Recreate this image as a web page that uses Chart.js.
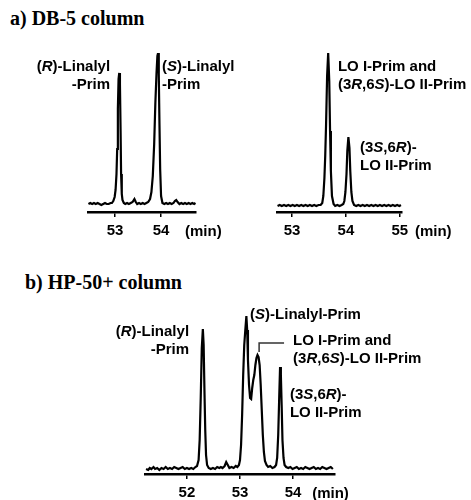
<!DOCTYPE html>
<html>
<head>
<meta charset="utf-8">
<script src="https://cdn.jsdelivr.net/npm/chart.js@4.4.1/dist/chart.umd.min.js"></script>
<style>
    body { margin: 0; background: #fff; }
    #wrap { position: relative; width: 471px; height: 500px; overflow: hidden; }
    .titulo { position: absolute; font: bold 20px "Liberation Serif", "Times New Roman", serif; color: #000; line-height: 20px; white-space: nowrap; }
    canvas { position: absolute; }
</style>
</head>
<body>
<div id="wrap">
    <div class="titulo" style="left:10px; top:8px">a) DB-5 column</div>
    <div class="titulo" style="left:25px; top:272px">b) HP-50+ column</div>
    <canvas id="graficoA1" width="240" height="220" style="left:0; top:30px"></canvas>
    <canvas id="graficoA2" width="231" height="220" style="left:240px; top:30px"></canvas>
    <canvas id="graficoB" width="471" height="215" style="left:0; top:290px"></canvas>
</div>
<script>
// a) DB-5, linalyl primeverosides (tempo em min, sinal em unidades arbitrarias)
const tempoA1 = [52.42, 52.46, 52.50, 52.54, 52.58, 52.62, 52.66, 52.70, 52.74, 52.78, 52.82, 52.86, 52.90, 52.93, 52.96, 52.99,
    53.01, 53.03, 53.045, 53.06, 53.075, 53.09, 53.105, 53.12, 53.13, 53.145, 53.16, 53.19, 53.22, 53.26, 53.30, 53.34, 53.38, 53.42, 53.45,
    53.48, 53.52, 53.56, 53.60, 53.64, 53.68, 53.72, 53.76, 53.79, 53.82, 53.85, 53.875, 53.90, 53.92, 53.935, 53.95, 53.965, 53.98,
    54.00, 54.03, 54.07, 54.11, 54.15, 54.19, 54.23, 54.27, 54.30, 54.33, 54.36, 54.40, 54.44, 54.48, 54.52, 54.56, 54.60, 54.64,
    54.68, 54.72, 54.75];
const sinalA1 = [0, 1, 0, 1, 0, 1, 0, -1, 0, 1, 0, 0, 1, 1, 3, 7,
    14, 30, 55, 95, 125, 131, 120, 70, 30, 10, 4, 1, 0, 1, 0, 1, 2, 5, 2,
    0, 1, 0, 1, 0, 1, 2, 5, 12, 28, 60, 100, 130, 148, 151, 130, 80, 35,
    8, 1, 0, 1, 0, 1, 0, 1, 3, 4, 2, 0, 1, 0, 1, 0, 1, 0,
    1, 0, 1];
const ticksA1 = [53, 54];

// a) DB-5, linalool oxide primeverosides
const tempoA2 = [52.73, 52.77, 52.81, 52.85, 52.89, 52.93, 52.97, 53.01, 53.05, 53.09, 53.13, 53.17, 53.21, 53.25, 53.29, 53.33,
    53.37, 53.41, 53.45, 53.49, 53.53, 53.56, 53.58, 53.60, 53.615, 53.63, 53.65, 53.67, 53.69, 53.705, 53.72, 53.74, 53.77, 53.80,
    53.84, 53.88, 53.92, 53.95, 53.97, 53.99, 54.01, 54.025, 54.045, 54.065, 54.08, 54.10, 54.12, 54.15, 54.19, 54.23, 54.27, 54.31,
    54.35, 54.39, 54.43, 54.47, 54.51, 54.55, 54.59, 54.63, 54.67, 54.71, 54.75, 54.79, 54.83, 54.87, 54.91, 54.95, 54.99, 55.02];
const sinalA2 = [0, 1, 0, 1, 0, 1, 0, 1, 0, 1, 0, 1, 0, 1, 0, 1,
    0, 1, 0, 1, 1, 3, 10, 28, 50, 80, 130, 153, 125, 75, 35, 10, 2, 0,
    1, 0, 1, 2, 5, 14, 32, 55, 69, 58, 35, 14, 5, 1, 0, 1, 0, 1,
    0, 1, 0, 1, 0, 1, 0, 1, 0, 1, 0, 1, 0, 1, 0, 1, 0, 1];
const ticksA2 = [53, 54, 55];

// b) HP-50+
const tempoB = [51.23, 51.27, 51.30, 51.33, 51.37, 51.40, 51.44, 51.48, 51.52, 51.56, 51.60, 51.64, 51.68, 51.72, 51.76, 51.80,
    51.84, 51.88, 51.92, 51.96, 52.00, 52.04, 52.08, 52.12, 52.16, 52.19, 52.22, 52.24, 52.26, 52.28, 52.30, 52.315, 52.33, 52.345,
    52.36, 52.38, 52.41, 52.45, 52.49, 52.53, 52.57, 52.61, 52.64, 52.67, 52.71, 52.74, 52.77, 52.80, 52.84, 52.88, 52.92, 52.95,
    52.98, 53.00, 53.02, 53.04, 53.06, 53.08, 53.10, 53.12, 53.135, 53.15, 53.17, 53.19, 53.21, 53.23, 53.25, 53.27, 53.29, 53.31,
    53.33, 53.35, 53.37, 53.39, 53.41, 53.43, 53.45, 53.47, 53.50, 53.53, 53.57, 53.61, 53.65, 53.68, 53.70, 53.72, 53.74, 53.755,
    53.77, 53.785, 53.80, 53.82, 53.84, 53.87, 53.91, 53.95, 53.99, 54.03, 54.07, 54.11, 54.15, 54.19, 54.23, 54.27, 54.31, 54.35,
    54.39, 54.43, 54.47, 54.51, 54.55, 54.59, 54.63, 54.67, 54.71, 54.75];
const sinalB = [1, 0, 2, 1, 3, 1, 2, 0, 2, 1, 3, 1, 2, 1, 3, 2,
    1, 2, 3, 1, 2, 1, 2, 1, 3, 4, 10, 30, 72, 122, 141, 125, 80, 40,
    15, 5, 2, 1, 2, 1, 3, 2, 3, 2, 4, 8, 5, 2, 3, 2, 4, 3,
    5, 10, 25, 55, 95, 125, 140, 154, 140, 110, 85, 72, 71, 82, 90, 95, 105, 112,
    115, 113, 105, 85, 60, 35, 18, 9, 5, 3, 4, 2, 3, 5, 12, 35, 75, 103,
    95, 65, 30, 12, 5, 3, 2, 3, 1, 2, 3, 1, 2, 1, 3, 2, 1, 2,
    3, 1, 2, 1, 3, 2, 1, 2, 3, 1];
const ticksB = [52, 53, 54];

// rotulos dos picos: texto entre * fica em italico; x em min, y em sinal
const rotulosA1 = [
    { x: 52.89, y: 137, lado: 'right', linhas: ['(*R*)-Linalyl', '-Prim'] },
    { x: 54.02, y: 137, lado: 'left', linhas: ['(*S*)-Linalyl', '-Prim'] }
];
const rotulosA2 = [
    { x: 53.85, y: 139, lado: 'left', linhas: ['LO I-Prim and', '(3*R*,6*S*)-LO II-Prim'] },
    { x: 54.26, y: 58, lado: 'left', linhas: ['(3*S*,6*R*)-', 'LO II-Prim'] }
];
const rotulosB = [
    { x: 52.04, y: 138, lado: 'right', linhas: ['(*R*)-Linalyl', '-Prim'] },
    { x: 53.19, y: 155, lado: 'left', linhas: ['(*S*)-Linalyl-Prim'] },
    { x: 54.00, y: 129, lado: 'left', linhas: ['LO I-Prim and', '(3*R*,6*S*)-LO II-Prim'] },
    { x: 53.94, y: 75, lado: 'left', linhas: ['(3*S*,6*R*)-', 'LO II-Prim'] }
];
// colchete que liga o rotulo LO I ao ombro do pico
const colcheteB = [[53.83, 127], [53.36, 127], [53.36, 118]];

const fonte = '"Liberation Sans", Arial, sans-serif';

Chart.defaults.font.family = fonte;
Chart.defaults.font.size = 15;
Chart.defaults.font.weight = 'bold';
Chart.defaults.color = '#000';

function escreverRico(ctx, texto, x, y, lado) {
    const partes = texto.split('*');
    let largura = 0;
    partes.forEach((p, i) => {
        ctx.font = (i % 2 ? 'italic ' : '') + 'bold 15px ' + fonte;
        largura += ctx.measureText(p).width;
    });
    let cx = lado === 'right' ? x - largura : x;
    partes.forEach((p, i) => {
        ctx.font = (i % 2 ? 'italic ' : '') + 'bold 15px ' + fonte;
        ctx.fillText(p, cx, y);
        cx += ctx.measureText(p).width;
    });
}

const pluginRotulos = {
    id: 'rotulos',
    afterDraw(chart, args, opts) {
        const ctx = chart.ctx;
        const sx = chart.scales.x, sy = chart.scales.y;
        ctx.save();
        ctx.fillStyle = '#000';
        ctx.textBaseline = 'middle';
        (opts.lista || []).forEach((r) => {
            r.linhas.forEach((linha, i) => {
                escreverRico(ctx, linha, sx.getPixelForValue(r.x), sy.getPixelForValue(r.y) + i * 18, r.lado);
            });
        });
        if (opts.colchete) {
            ctx.strokeStyle = '#333';
            ctx.lineWidth = 1.5;
            ctx.beginPath();
            opts.colchete.forEach((p, i) => {
                const px = sx.getPixelForValue(p[0]), py = sy.getPixelForValue(p[1]);
                if (i === 0) ctx.moveTo(px, py); else ctx.lineTo(px, py);
            });
            ctx.stroke();
        }
        // unidade do eixo
        ctx.font = 'bold 15px ' + fonte;
        ctx.fillText('(min)', sx.getPixelForValue(opts.unidadeX), chart.chartArea.bottom + 20);
        ctx.restore();
    }
};

function plotarCromatograma(id, tempos, sinais, marcas, faixa, rotulos, extra) {
    const pontos = tempos.map((t, i) => ({ x: t, y: sinais[i] }));
    return new Chart(document.getElementById(id), {
        type: 'line',
        data: {
            datasets: [{
                data: pontos,
                borderColor: '#000',
                borderWidth: 2.2,
                pointRadius: 0,
                tension: 0,
                fill: false
            }]
        },
        options: {
            responsive: false,
            animation: false,
            layout: { padding: extra.padding },
            plugins: {
                legend: { display: false },
                tooltip: { enabled: false },
                rotulos: { lista: rotulos, colchete: extra.colchete, unidadeX: extra.unidadeX }
            },
            scales: {
                x: {
                    type: 'linear',
                    min: faixa[0],
                    max: faixa[1],
                    afterBuildTicks: (s) => { s.ticks = marcas.map((v) => ({ value: v })); },
                    afterFit: (s) => { s.height = 30; },
                    ticks: {
                        autoSkip: false,
                        maxRotation: 0,
                        padding: 5,
                        color: '#000',
                        font: { family: fonte, weight: 'bold', size: 15 }
                    },
                    grid: { drawOnChartArea: false, drawTicks: true, tickLength: 5, color: '#000', lineWidth: 1.5 },
                    border: { display: true, color: '#000', width: 2.5 }
                },
                y: {
                    display: false,
                    min: faixa[2],
                    max: faixa[3]
                }
            }
        },
        plugins: [pluginRotulos]
    });
}

plotarCromatograma('graficoA1', tempoA1, sinalA1, ticksA1, [52.41, 54.76, -8, 151], rotulosA1,
    { padding: { left: 88, right: 44, top: 23, bottom: 8 }, unidadeX: 54.52 });
plotarCromatograma('graficoA2', tempoA2, sinalA2, ticksA2, [52.72, 55.04, -6, 153], rotulosA2,
    { padding: { left: 37, right: 69, top: 23, bottom: 8 }, unidadeX: 55.28 });
plotarCromatograma('graficoB', tempoB, sinalB, ticksB, [51.21, 54.79, -4, 156], rotulosB,
    { padding: { left: 145, right: 136, top: 24, bottom: 1 }, unidadeX: 54.36, colchete: colcheteB });
</script>
</body>
</html>
